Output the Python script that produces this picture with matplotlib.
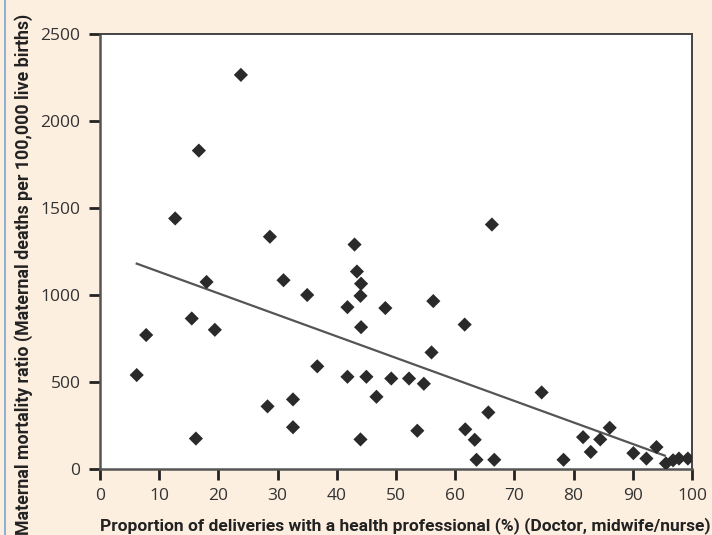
import matplotlib
matplotlib.use("Agg")
import matplotlib.pyplot as plt
from matplotlib.lines import Line2D

# Data
delivery_pct = [6.2, 7.8, 12.7, 15.5, 16.2, 16.7, 18.0, 19.4, 23.8, 28.3, 28.7,
                31.0, 32.6, 32.6, 35.0, 36.7, 41.8, 41.8, 43.0, 43.4, 44.0,
                44.1, 44.1, 44.0, 45.0, 46.7, 48.2, 49.2, 52.2, 53.6, 54.7,
                56.0, 56.3, 61.6, 61.7, 63.3, 63.6, 65.6, 66.2, 66.6, 74.6,
                78.3, 81.6, 82.9, 84.5, 86.1, 90.1, 92.3, 94.0, 95.6, 96.8,
                97.8, 99.3]
mmr = [540, 770, 1440, 865, 175, 1830, 1075, 800, 2265, 360, 1335,
       1085, 400, 240, 1000, 590, 930, 530, 1290, 1135, 995,
       1065, 815, 170, 530, 415, 925, 520, 520, 220, 490,
       670, 965, 830, 228, 168, 53, 325, 1405, 53, 440,
       53, 183, 98, 170, 237, 91, 60, 126, 32, 50,
       60, 60]

# Trend line
trend_x = [6.2, 95.4]
trend_intercept = 1257
trend_slope = -12.37

x_ticks = [0, 10, 20, 30, 40, 50, 60, 70, 80, 90, 100]
y_ticks = [0, 500, 1000, 1500, 2000, 2500]
x_label = "Proportion of deliveries with a health professional (%) (Doctor, midwife/nurse)"
y_label = "Maternal mortality ratio (Maternal deaths per 100,000 live births)"

bg = "#FDEFE0"
fig = plt.figure(figsize=(7.12, 5.35), dpi=100, facecolor=bg)
ax = fig.add_axes([100/712, 66/535, 592/712, 435/535])
ax.set_facecolor("white")

ax.plot(trend_x, [trend_intercept + trend_slope * v for v in trend_x],
        color="#555555", lw=1.6, zorder=2)
ax.scatter(delivery_pct, mmr, marker="D", s=52, color="#2a2a2a",
           edgecolors="none", zorder=3)

ax.set_xlim(0, 100)
ax.set_ylim(0, 2500)
ax.set_xticks(x_ticks)
ax.set_yticks(y_ticks)
ax.tick_params(axis="both", direction="out", length=8, width=2,
               color="#222222", labelsize=12.5, labelcolor="#333333", pad=6)
for lab in ax.get_xticklabels() + ax.get_yticklabels():
    lab.set_fontfamily("Open Sans")
for side in ["left", "bottom"]:
    ax.spines[side].set_linewidth(1.8)
    ax.spines[side].set_color("#555555")
for side in ["top", "right"]:
    ax.spines[side].set_linewidth(1.4)
    ax.spines[side].set_color("#444444")

xl = fig.text(100/712, 1 - 526/535, x_label, ha="left", va="center",
              fontsize=12, fontweight="bold", color="#222222",
              family=["Roboto", "DejaVu Sans"])
yl = fig.text(24/712, 1 - 274/535, y_label, ha="center", va="center",
              rotation=90, fontsize=12, fontweight="bold", color="#222222",
              family=["Roboto", "DejaVu Sans"])

# shrink labels to the widths seen in the reference
fig.canvas.draw()
r = fig.canvas.get_renderer()
w = xl.get_window_extent(r).width
xl.set_fontsize(12 * 608 / w)
h = yl.get_window_extent(r).height
yl.set_fontsize(12 * 518 / h)

fig.add_artist(Line2D([5/712, 5/712], [0, 1], color="#86a8d4", lw=1.3,
                      transform=fig.transFigure))

fig.savefig("out.png", dpi=100, facecolor=bg)
